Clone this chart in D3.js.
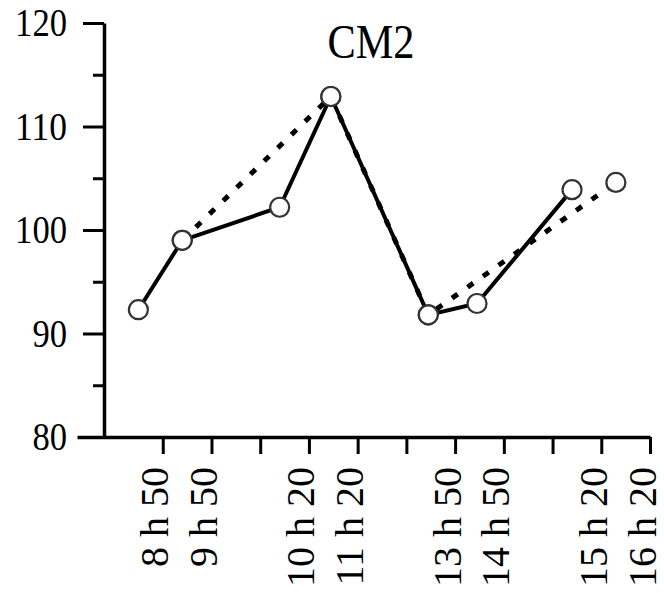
<!DOCTYPE html>
<html>
<head>
<meta charset="utf-8">
<script src="https://cdn.jsdelivr.net/npm/d3@7"></script>
<style>
  body { margin: 0; background: #fff; }
  text { font-family: "Liberation Serif", "Times New Roman", serif; fill: #000; }
</style>
</head>
<body>
<script>
// tick slots along the x axis and their labels (blank slots have no label)
let tickSlots = [1, 2, 3, 4, 5, 6, 7, 8, 9, 10, 11];
let tickLabels = ["8 h 50", "9 h 50", "", "10 h 20", "11 h 20", "", "13 h 50", "14 h 50", "", "15 h 20", "16 h 20"];

// solid series
let solidSlots = [0.5, 1.4, 3.4, 4.45, 6.45, 7.45, 9.4];
let solidValues = [92.3, 99.0, 102.2, 112.9, 91.8, 92.9, 103.9];

// dashed series
let dashedSlots = [1.4, 4.45, 6.45, 10.3];
let dashedValues = [99.0, 112.9, 91.8, 104.6];

let yMajor = [80, 90, 100, 110, 120];
let yMinor = [85, 95, 105, 115];
let title = "CM2";

function drawChart(){
  let width = 664;
  let height = 593;

  let svg = d3.select("body").append("svg")
    .attr("width", width).attr("height", height);

  let xScale = d3.scaleLinear().domain([-0.76, 11]).range([77, 650]);
  let yScale = d3.scaleLinear().domain([80, 120]).range([437, 23]);

  // x axis
  let xAxis = d3.axisBottom(xScale)
    .tickValues(tickSlots)
    .tickSize(17)
    .tickSizeOuter(0)
    .tickFormat(function(d, i){ return tickLabels[i]; });
  let gx = svg.append("g")
    .attr("transform", "translate(0,437)")
    .call(xAxis);
  gx.select(".domain").attr("stroke-width", 3.5);
  gx.selectAll(".tick line").attr("stroke-width", 3);
  gx.selectAll(".tick text")
    .attr("transform", "rotate(-90)")
    .attr("x", -30)
    .attr("y", 5)
    .attr("dy", 0)
    .style("text-anchor", "end")
    .style("font-size", "40px")
    .style("font-family", "Liberation Serif");

  // y axis, major ticks with labels
  let yAxis = d3.axisLeft(yScale)
    .tickValues(yMajor)
    .tickSize(21)
    .tickSizeOuter(0);
  let gy = svg.append("g")
    .attr("transform", "translate(104,0)")
    .call(yAxis);
  gy.select(".domain").attr("stroke-width", 3.5);
  gy.selectAll(".tick line").attr("stroke-width", 3);
  gy.selectAll(".tick text")
    .attr("x", -37)
    .style("font-size", "40px")
    .style("font-family", "Liberation Serif")
    .attr("textLength", function(d){ return String(d).length * 17.3; })
    .attr("lengthAdjust", "spacingAndGlyphs");

  // y axis minor ticks
  let yMinorAxis = d3.axisLeft(yScale)
    .tickValues(yMinor)
    .tickSize(11)
    .tickSizeOuter(0)
    .tickFormat("");
  let gym = svg.append("g")
    .attr("transform", "translate(104,0)")
    .call(yMinorAxis);
  gym.select(".domain").remove();
  gym.selectAll(".tick line").attr("stroke-width", 3);

  // title
  svg.append("text")
    .attr("x", 371)
    .attr("y", 58)
    .attr("text-anchor", "middle")
    .attr("textLength", 87)
    .attr("lengthAdjust", "spacingAndGlyphs")
    .style("font-size", "48px")
    .text(title);

  let solidData = solidSlots.map(function(s, i){ return {x: s, y: solidValues[i]}; });
  let dashedData = dashedSlots.map(function(s, i){ return {x: s, y: dashedValues[i]}; });

  let line = d3.line()
    .x(function(d){ return xScale(d.x); })
    .y(function(d){ return yScale(d.y); });

  svg.append("path")
    .datum(dashedData)
    .attr("d", line)
    .attr("fill", "none")
    .attr("stroke", "#000")
    .attr("stroke-width", 5)
    .attr("stroke-dasharray", "7,12");

  svg.append("path")
    .datum(solidData)
    .attr("d", line)
    .attr("fill", "none")
    .attr("stroke", "#000")
    .attr("stroke-width", 4);

  // markers
  svg.selectAll("circle.solid")
    .data(solidData)
    .enter()
    .append("circle")
      .attr("class", "solid")
      .attr("cx", function(d){ return xScale(d.x); })
      .attr("cy", function(d){ return yScale(d.y); })
      .attr("r", 9.5)
      .attr("fill", "#fff")
      .attr("stroke", "#333")
      .attr("stroke-width", 2.2);

  svg.selectAll("circle.dashed")
    .data(dashedData)
    .enter()
    .append("circle")
      .attr("class", "dashed")
      .attr("cx", function(d){ return xScale(d.x); })
      .attr("cy", function(d){ return yScale(d.y); })
      .attr("r", 9.5)
      .attr("fill", "#fff")
      .attr("stroke", "#333")
      .attr("stroke-width", 2.2);
}

drawChart();
</script>
</body>
</html>
